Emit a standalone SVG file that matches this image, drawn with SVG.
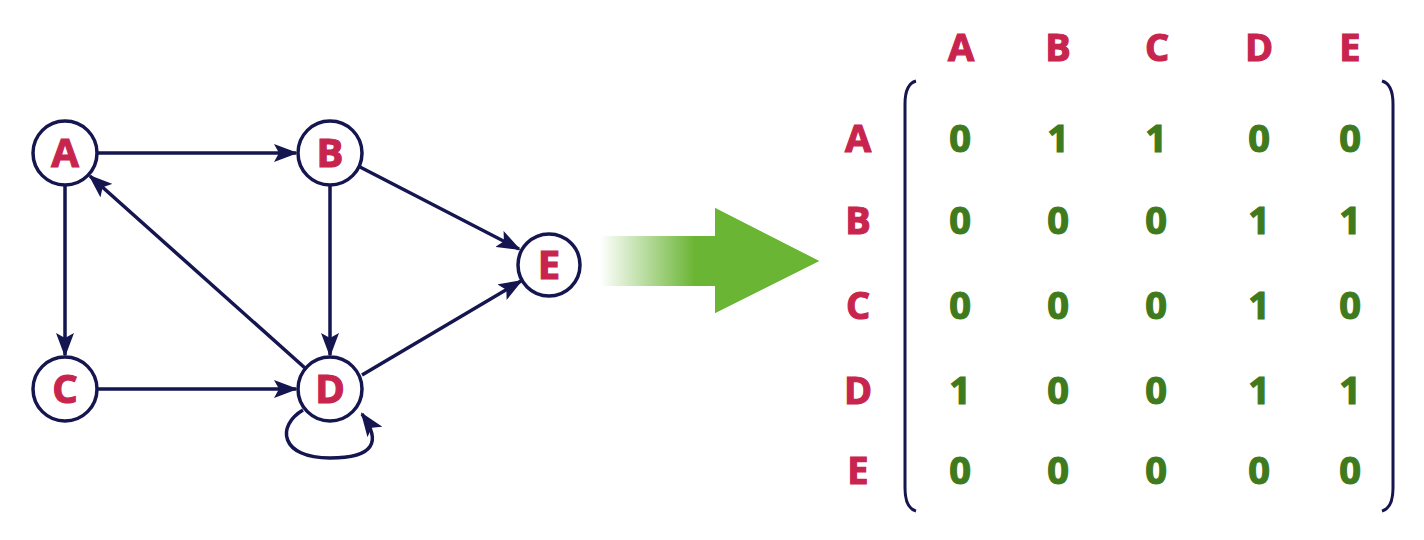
<svg xmlns="http://www.w3.org/2000/svg" width="1424" height="540" viewBox="0 0 1424 540">
<defs>
<style>
.node circle{fill:#fff;stroke:#15154f;stroke-width:3.5}
.lbl{font-family:"Open Sans","Liberation Sans",sans-serif;font-weight:bold;fill:#c8254e;stroke:#c8254e;stroke-width:1.2;text-anchor:middle}
.nl{font-size:40px}
.ml{font-size:38px}
.num{font-family:"Open Sans","Liberation Sans",sans-serif;font-weight:bold;fill:#3f7a1c;stroke:#3f7a1c;stroke-width:1.2;text-anchor:middle;font-size:38px}
.edge{fill:none;stroke:#15154f;stroke-width:3.5}
.br{fill:none;stroke:#15154f;stroke-width:3}
</style>
<marker id="ah" viewBox="0 0 24 18" refX="22" refY="9" markerWidth="24" markerHeight="18" markerUnits="userSpaceOnUse" orient="auto">
<path d="M0,0 L24,9 L0,18 L5,9 z" fill="#15154f"/>
</marker>
<linearGradient id="gg" x1="600" y1="0" x2="695" y2="0" gradientUnits="userSpaceOnUse">
<stop offset="0" stop-color="#6ab534" stop-opacity="0"/>
<stop offset="1" stop-color="#6ab534" stop-opacity="1"/>
</linearGradient>
</defs>
<rect width="1424" height="540" fill="#fff"/>
<g id="connectors">
<line class="edge" x1="98" y1="153" x2="296" y2="153" marker-end="url(#ah)"/>
<line class="edge" x1="65" y1="186" x2="65" y2="355" marker-end="url(#ah)"/>
<line class="edge" x1="330" y1="186" x2="330" y2="355" marker-end="url(#ah)"/>
<line class="edge" x1="98" y1="389" x2="296" y2="389" marker-end="url(#ah)"/>
<line class="edge" x1="305" y1="368" x2="90" y2="176" marker-end="url(#ah)"/>
<line class="edge" x1="360" y1="167" x2="519" y2="249" marker-end="url(#ah)"/>
<line class="edge" x1="362" y1="375" x2="521" y2="281" marker-end="url(#ah)"/>
<path class="edge" d="M303,410 C276,426 280,458 330,458 C374,458 382,442 362,414" marker-end="url(#ah)"/>
</g>
<g id="node-A" class="node"><circle cx="65" cy="153" r="32"/><text class="lbl nl" x="65" y="167">A</text></g>
<g id="node-B" class="node"><circle cx="330" cy="153" r="32"/><text class="lbl nl" x="330" y="167">B</text></g>
<g id="node-C" class="node"><circle cx="65" cy="389" r="32"/><text class="lbl nl" x="65" y="403">C</text></g>
<g id="node-D" class="node"><circle cx="330" cy="389" r="32"/><text class="lbl nl" x="330" y="403">D</text></g>
<g id="node-E" class="node"><circle cx="549" cy="265" r="31"/><text class="lbl nl" x="549" y="279">E</text></g>
<g id="big-arrow">
<path d="M600,236 L715,236 L715,208 L819,261 L715,313 L715,286 L600,286 z" fill="url(#gg)"/>
<path d="M694,236 L715,236 L715,208 L819,261 L715,313 L715,286 L694,286 z" fill="#6ab534"/>
</g>
<g id="matrix">
<path class="br" d="M916,81 Q905,84 905,104 L905,488 Q905,508 916,511"/>
<path class="br" d="M1382,81 Q1393,84 1393,104 L1393,488 Q1393,508 1382,511"/>
<g class="lbl ml">
<text x="961" y="61">A</text><text x="1058" y="61">B</text><text x="1157" y="61">C</text><text x="1259" y="61">D</text><text x="1350" y="61">E</text>
<text x="858" y="152">A</text><text x="858" y="234">B</text><text x="858" y="319">C</text><text x="858" y="404">D</text><text x="858" y="484">E</text>
</g>
<g class="num">
<text x="960" y="152">0</text><text x="1058" y="152">1</text><text x="1156" y="152">1</text><text x="1259" y="152">0</text><text x="1350" y="152">0</text>
<text x="960" y="234">0</text><text x="1058" y="234">0</text><text x="1156" y="234">0</text><text x="1259" y="234">1</text><text x="1350" y="234">1</text>
<text x="960" y="319">0</text><text x="1058" y="319">0</text><text x="1156" y="319">0</text><text x="1259" y="319">1</text><text x="1350" y="319">0</text>
<text x="960" y="404">1</text><text x="1058" y="404">0</text><text x="1156" y="404">0</text><text x="1259" y="404">1</text><text x="1350" y="404">1</text>
<text x="960" y="484">0</text><text x="1058" y="484">0</text><text x="1156" y="484">0</text><text x="1259" y="484">0</text><text x="1350" y="484">0</text>
</g>
</g>
</svg>
